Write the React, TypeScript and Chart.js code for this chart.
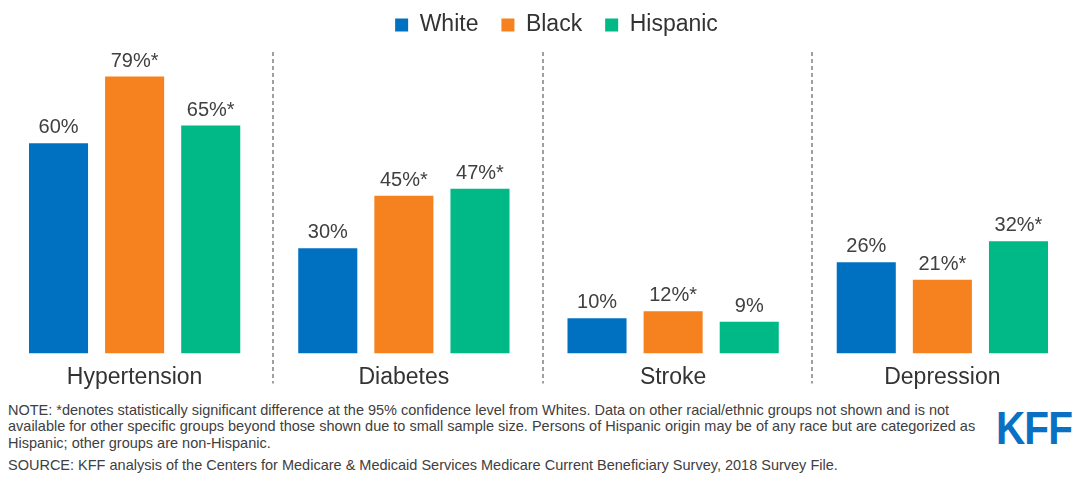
import React, { useEffect, useRef } from "react";
import { Chart, registerables } from "chart.js";

Chart.register(...registerables);

const categories = ["Hypertension", "Diabetes", "Stroke", "Depression"];
const seriesNames = ["White", "Black", "Hispanic"];
const whiteValues = [60, 30, 10, 26];
const blackValues = [79, 45, 12, 21];
const hispanicValues = [65, 47, 9, 32];
const whiteSignificant = [false, false, false, false];
const blackSignificant = [true, true, true, true];
const hispanicSignificant = [true, true, false, true];
const seriesColors = ["#0070C0", "#F5821F", "#00B986"];
const noteLines = [
  "NOTE: *denotes statistically significant difference at the 95% confidence level from Whites. Data on other racial/ethnic groups not shown and is not",
  "available for other specific groups beyond those shown due to small sample size. Persons of Hispanic origin may be of any race but are categorized as",
  "Hispanic; other groups are non-Hispanic.",
];
const sourceLine =
  "SOURCE: KFF analysis of the Centers for Medicare & Medicaid Services Medicare Current Beneficiary Survey, 2018 Survey File.";

const FONT = "'Liberation Sans', Arial, Helvetica, sans-serif";

export default function App() {
  const ref = useRef<HTMLCanvasElement>(null);

  useEffect(() => {
    const canvas = ref.current;
    if (!canvas) return;
    const values = [whiteValues, blackValues, hispanicValues];
    const sig = [whiteSignificant, blackSignificant, hispanicSignificant];

    const legendFitPlugin = {
      id: "legendFit",
      beforeInit(chart: any) {
        const legend = chart.legend;
        if (!legend) return;
        const orig = legend.fit;
        legend.fit = function () {
          orig.call(this);
          this.height = 54.5;
        };
      },
      afterLayout(chart: any) {
        const legend = chart.legend;
        if (!legend) return;
        legend.left += 18;
        legend.right += 18;
      },
    };

    const separatorPlugin = {
      id: "separators",
      beforeDatasetsDraw(chart: any) {
        const xs = chart.scales.x;
        const ys = chart.scales.y;
        const ctx = chart.ctx;
        ctx.save();
        ctx.strokeStyle = "#a0a0a0";
        ctx.lineWidth = 2;
        ctx.setLineDash([4, 3]);
        for (let i = 0; i < categories.length - 1; i++) {
          const xm = Math.round((xs.getPixelForValue(i) + xs.getPixelForValue(i + 1)) / 2 + 4);
          ctx.beginPath();
          ctx.moveTo(xm, ys.getPixelForValue(86));
          ctx.lineTo(xm, chart.chartArea.bottom + 30);
          ctx.stroke();
        }
        ctx.restore();
      },
    };

    const valueLabelPlugin = {
      id: "valueLabels",
      afterDatasetsDraw(chart: any) {
        const ctx = chart.ctx;
        ctx.save();
        ctx.font = `20px ${FONT}`;
        ctx.fillStyle = "#404040";
        ctx.textAlign = "center";
        ctx.textBaseline = "alphabetic";
        chart.data.datasets.forEach((ds: any, di: number) => {
          const meta = chart.getDatasetMeta(di);
          meta.data.forEach((el: any, i: number) => {
            const label = `${ds.data[i]}%${sig[di][i] ? "*" : ""}`;
            ctx.fillText(label, el.x, el.y - 10);
          });
        });
        ctx.restore();
      },
    };

    const chart = new Chart(canvas, {
      type: "bar",
      data: {
        labels: categories,
        datasets: seriesNames.map((name, i) => ({
          label: name,
          data: values[i],
          backgroundColor: seriesColors[i],
          borderWidth: 0,
          barPercentage: 0.776,
          categoryPercentage: 0.848,
        })),
      },
      options: {
        animation: false,
        responsive: false,
        maintainAspectRatio: false,
        devicePixelRatio: 1,
        layout: { padding: { top: -9.5, bottom: 0, left: 0, right: 0 } },
        plugins: {
          legend: {
            position: "top",
            align: "center",
            labels: {
              boxWidth: 13,
              boxHeight: 13,
              padding: 23,
              color: "#333333",
              font: { size: 23, family: FONT },
            },
          },
          tooltip: { enabled: false },
        },
        scales: {
          x: {
            grid: { display: false, drawTicks: false },
            border: { display: false },
            ticks: {
              color: "#333333",
              padding: 10,
              font: { size: 23, family: FONT },
            },
          },
          y: {
            display: false,
            min: 0,
            max: 88,
          },
        },
      },
      plugins: [legendFitPlugin, separatorPlugin, valueLabelPlugin],
    } as any);

    return () => chart.destroy();
  }, []);

  const noteStyle: React.CSSProperties = {
    position: "absolute",
    left: 8,
    fontFamily: FONT,
    fontSize: 14.5,
    color: "#404040",
    whiteSpace: "nowrap",
    lineHeight: "17px",
  };

  return (
    <div style={{ position: "absolute", left: 0, top: 0, width: 1077, height: 477, background: "#ffffff" }}>
      <canvas ref={ref} width={1077} height={401} style={{ position: "absolute", left: 0, top: 0, width: 1077, height: 401 }} />
      <div style={{ ...noteStyle, top: 401.5 }}>
        {noteLines.map((l, i) => (
          <div key={i} style={{ height: 16.5 }}>{l}</div>
        ))}
      </div>
      <div style={{ ...noteStyle, top: 456.5 }}>{sourceLine}</div>
      <div
        style={{
          position: "absolute",
          left: 996,
          top: 402,
          fontFamily: FONT,
          fontWeight: "bold",
          fontSize: 46,
          color: "#0A70C4",
          transform: "scaleX(0.88)",
          transformOrigin: "left top",
          letterSpacing: -1,
          lineHeight: "52px",
        }}
      >
        KFF
      </div>
    </div>
  );
}
